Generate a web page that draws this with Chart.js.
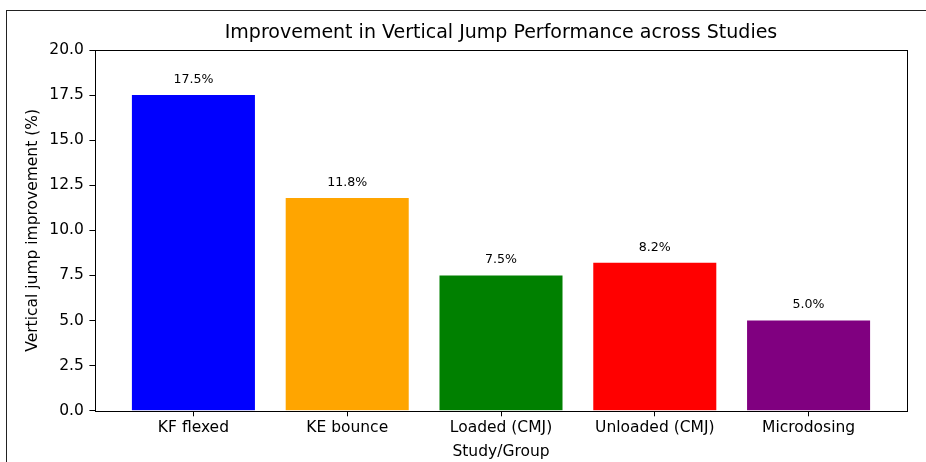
<!DOCTYPE html>
<html>
<head>
<meta charset="utf-8">
<script src="https://cdn.jsdelivr.net/npm/chart.js@4"></script>
<style>
  html, body { margin: 0; padding: 0; background: #fff; }
  #wrap { position: relative; width: 926px; height: 462px; }
  #frame { position: absolute; left: 6px; top: 10px; right: 0; bottom: 0;
           border-top: 1px solid #222; border-left: 1px solid #222; pointer-events: none; }
</style>
</head>
<body>
<div id="wrap">
  <canvas id="chart" width="926" height="462"></canvas>
  <div id="frame"></div>
</div>
<script>
// ── Data ─────────────────────────────────────────────
const groups = ['KF flexed', 'KE bounce', 'Loaded (CMJ)', 'Unloaded (CMJ)', 'Microdosing'];
const improvement = [17.5, 11.8, 7.5, 8.2, 5.0];
const barColors = ['#0000ff', '#ffa500', '#008000', '#ff0000', '#800080'];
const yTicks = [0, 2.5, 5, 7.5, 10, 12.5, 15, 17.5, 20];

const FONT = "'DejaVu Sans', sans-serif";
Chart.defaults.font.family = FONT;
Chart.defaults.color = '#000';

// value labels above bars + box around plot
const barLabels = {
  id: 'barLabels',
  afterDatasetsDraw(chart) {
    const { ctx, scales: { x, y }, chartArea: a } = chart;
    ctx.save();
    ctx.font = '12.6px ' + FONT;
    ctx.fillStyle = '#000';
    ctx.textAlign = 'center';
    ctx.textBaseline = 'bottom';
    improvement.forEach((v, i) => {
      ctx.fillText(v.toFixed(1) + '%', x.getPixelForValue(i), y.getPixelForValue(v + 0.5));
    });
    ctx.strokeStyle = '#000';
    ctx.lineWidth = 1;
    ctx.strokeRect(Math.round(a.left) + 0.5, Math.round(a.top) + 0.5,
      Math.round(a.right - a.left), Math.round(a.bottom - a.top));
    ctx.restore();
  }
};

new Chart(document.getElementById('chart'), {
  type: 'bar',
  data: {
    datasets: [{
      data: improvement.map((v, i) => ({ x: i, y: v })),
      backgroundColor: barColors,
      borderWidth: 0,
      barPercentage: 0.8,
      categoryPercentage: 1.0,
    }]
  },
  options: {
    responsive: false,
    animation: false,
    events: [],
    layout: { padding: { left: 0, right: 19, top: 0, bottom: 0 } },
    plugins: {
      legend: { display: false },
      tooltip: { enabled: false },
      title: {
        display: true,
        fullSize: false,
        text: 'Improvement in Vertical Jump Performance across Studies',
        color: '#000',
        font: { size: 19, weight: 'normal' },
        padding: { top: 21.6, bottom: 5.6 }
      }
    },
    scales: {
      x: {
        type: 'linear',
        min: -0.64, max: 4.64,
        offset: false,
        afterBuildTicks: s => { s.ticks = groups.map((_, i) => ({ value: i })); },
        afterFit: s => { s.height = 51.3; },
        ticks: {
          callback: v => groups[v],
          font: { size: 15.5 },
          color: '#000',
          padding: 2,
          maxRotation: 0,
          autoSkip: false
        },
        grid: { offset: false, drawOnChartArea: false, tickLength: 5.6, tickColor: '#000' },
        border: { display: false },
        title: {
          display: true, text: 'Study/Group',
          font: { size: 15.5 }, color: '#000',
          padding: { top: 0, bottom: 0.7 }
        }
      },
      y: {
        min: 0, max: 20,
        afterBuildTicks: s => { s.ticks = yTicks.map(v => ({ value: v })); },
        afterFit: s => { s.width = 95; },
        ticks: {
          callback: v => v.toFixed(1),
          font: { size: 15.5 },
          color: '#000',
          padding: 5.6
        },
        grid: { drawOnChartArea: false, tickLength: 5.6, tickColor: '#000' },
        border: { display: false },
        title: {
          display: true, text: 'Vertical jump improvement (%)',
          font: { size: 15.5 }, color: '#000',
          padding: { top: 23.7, bottom: 0 }
        }
      }
    }
  },
  plugins: [barLabels]
});
</script>
</body>
</html>
